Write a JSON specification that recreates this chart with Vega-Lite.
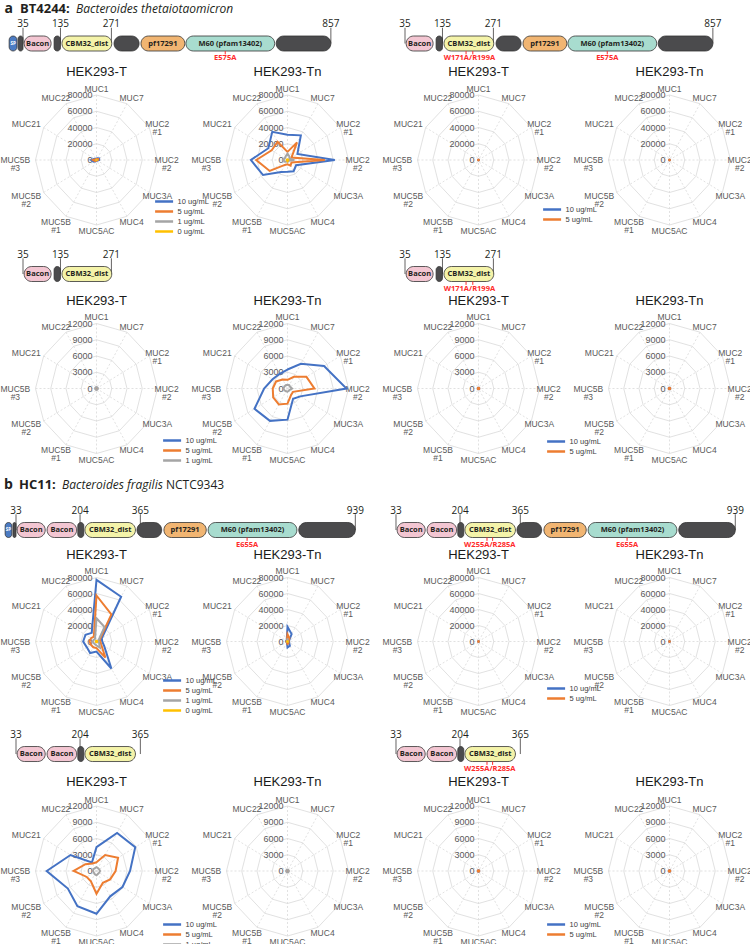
{
"$schema":"https://vega.github.io/schema/vega-lite/v6.json",
"background":"white",
"padding":0,
"spacing":0,
"resolve":{"scale":{"color":"independent","stroke":"independent"},"legend":{"color":"independent","stroke":"independent"}},
"config":{
 "view":{"stroke":null},
 "axis":{"disable":true},
 "style":{
  "num":{"font":"Open Sans","fontSize":10,"color":"#231f20"},
  "dname":{"font":"Open Sans","fontWeight":"bold"},
  "mutl":{"font":"Open Sans","fontSize":7.5,"fontWeight":"bold","color":"#ff2a2a"},
  "hdr":{"font":"Open Sans","color":"#231f20","align":"left","fontSize":13}
 }
},
"datasets":{
 "spk":[{"k":0,"m":"MUC1"},{"k":1,"m":"MUC7"},{"k":2,"m":"MUC2 #1"},{"k":3,"m":"MUC2 #2"},{"k":4,"m":"MUC3A"},{"k":5,"m":"MUC4"},{"k":6,"m":"MUC5AC"},{"k":7,"m":"MUC5B #1"},{"k":8,"m":"MUC5B #2"},{"k":9,"m":"MUC5B #3"},{"k":10,"m":"MUC21"},{"k":11,"m":"MUC22"}],
 "hdr":[{"sec":"a","lab":"a","gene":"BT4244:","species":"Bacteroides thetaiotaomicron","strain":""},{"sec":"b","lab":"b","gene":"HC11:","species":"Bacteroides fragilis","strain":"NCTC9343"}],
 "dom":[
  {"org":"BT","s":-2,"e":19,"n":"SP"},{"org":"BT","s":22,"e":35,"n":""},{"org":"BT","s":38,"e":110,"n":"Bacon"},{"org":"BT","s":118,"e":135,"n":""},{"org":"BT","s":139,"e":272,"n":"CBM32_dist"},{"org":"BT","s":278,"e":345,"n":""},{"org":"BT","s":350,"e":467,"n":"pf17291"},{"org":"BT","s":470,"e":707,"n":"M60 (pfam13402)"},{"org":"BT","s":711,"e":857,"n":""},
  {"org":"HC","s":4,"e":22,"n":"SP"},{"org":"HC","s":25,"e":33,"n":""},{"org":"HC","s":36,"e":111,"n":"Bacon"},{"org":"HC","s":116,"e":195,"n":"Bacon"},{"org":"HC","s":198,"e":214,"n":""},{"org":"HC","s":217,"e":352,"n":"CBM32_dist"},{"org":"HC","s":356,"e":422,"n":""},{"org":"HC","s":428,"e":541,"n":"pf17291"},{"org":"HC","s":546,"e":783,"n":"M60 (pfam13402)"},{"org":"HC","s":788,"e":939,"n":""}
 ],
 "num":[{"org":"BT","r":35},{"org":"BT","r":135},{"org":"BT","r":271},{"org":"BT","r":857},{"org":"HC","r":33},{"org":"HC","r":204},{"org":"HC","r":365},{"org":"HC","r":939}],
 "mut":[{"org":"BT","g":"E575A","r":575},{"org":"BT","g":"W171A/R199A","r":198},{"org":"BT","g":"W171A/R199A","r":216},{"org":"HC","g":"E655A","r":650},{"org":"HC","g":"W255A/R285A","r":276},{"org":"HC","g":"W255A/R285A","r":291}],
 "a1":[
  {"p":"L-T","c":10,"k":0,"v":2000},{"p":"L-T","c":10,"k":1,"v":2500},{"p":"L-T","c":10,"k":2,"v":4000},{"p":"L-T","c":10,"k":3,"v":3500},{"p":"L-T","c":10,"k":4,"v":1500},{"p":"L-T","c":10,"k":5,"v":1000},{"p":"L-T","c":10,"k":6,"v":1000},{"p":"L-T","c":10,"k":7,"v":2000},{"p":"L-T","c":10,"k":8,"v":4000},{"p":"L-T","c":10,"k":9,"v":7000},{"p":"L-T","c":10,"k":10,"v":3000},{"p":"L-T","c":10,"k":11,"v":1500},
  {"p":"L-T","c":5,"k":0,"v":1200},{"p":"L-T","c":5,"k":1,"v":1500},{"p":"L-T","c":5,"k":2,"v":2500},{"p":"L-T","c":5,"k":3,"v":2000},{"p":"L-T","c":5,"k":4,"v":800},{"p":"L-T","c":5,"k":5,"v":600},{"p":"L-T","c":5,"k":6,"v":600},{"p":"L-T","c":5,"k":7,"v":1200},{"p":"L-T","c":5,"k":8,"v":2500},{"p":"L-T","c":5,"k":9,"v":4500},{"p":"L-T","c":5,"k":10,"v":1800},{"p":"L-T","c":5,"k":11,"v":900},
  {"p":"L-T","c":1,"k":0,"v":300},{"p":"L-T","c":1,"k":1,"v":300},{"p":"L-T","c":1,"k":2,"v":300},{"p":"L-T","c":1,"k":3,"v":300},{"p":"L-T","c":1,"k":4,"v":300},{"p":"L-T","c":1,"k":5,"v":300},{"p":"L-T","c":1,"k":6,"v":300},{"p":"L-T","c":1,"k":7,"v":300},{"p":"L-T","c":1,"k":8,"v":300},{"p":"L-T","c":1,"k":9,"v":300},{"p":"L-T","c":1,"k":10,"v":300},{"p":"L-T","c":1,"k":11,"v":300},
  {"p":"L-T","c":0,"k":0,"v":200},{"p":"L-T","c":0,"k":1,"v":200},{"p":"L-T","c":0,"k":2,"v":200},{"p":"L-T","c":0,"k":3,"v":200},{"p":"L-T","c":0,"k":4,"v":200},{"p":"L-T","c":0,"k":5,"v":200},{"p":"L-T","c":0,"k":6,"v":200},{"p":"L-T","c":0,"k":7,"v":200},{"p":"L-T","c":0,"k":8,"v":200},{"p":"L-T","c":0,"k":9,"v":200},{"p":"L-T","c":0,"k":10,"v":200},{"p":"L-T","c":0,"k":11,"v":200},
  {"p":"L-Tn","c":10,"k":0,"v":31000},{"p":"L-Tn","c":10,"k":1,"v":35000},{"p":"L-Tn","c":10,"k":2,"v":15000},{"p":"L-Tn","c":10,"k":3,"v":62000},{"p":"L-Tn","c":10,"k":4,"v":13000},{"p":"L-Tn","c":10,"k":5,"v":16000},{"p":"L-Tn","c":10,"k":6,"v":14500},{"p":"L-Tn","c":10,"k":7,"v":17000},{"p":"L-Tn","c":10,"k":8,"v":37000},{"p":"L-Tn","c":10,"k":9,"v":48000},{"p":"L-Tn","c":10,"k":10,"v":29000},{"p":"L-Tn","c":10,"k":11,"v":40000},
  {"p":"L-Tn","c":5,"k":0,"v":10000},{"p":"L-Tn","c":5,"k":1,"v":25000},{"p":"L-Tn","c":5,"k":2,"v":6000},{"p":"L-Tn","c":5,"k":3,"v":49000},{"p":"L-Tn","c":5,"k":4,"v":6000},{"p":"L-Tn","c":5,"k":5,"v":8000},{"p":"L-Tn","c":5,"k":6,"v":5400},{"p":"L-Tn","c":5,"k":7,"v":7000},{"p":"L-Tn","c":5,"k":8,"v":27000},{"p":"L-Tn","c":5,"k":9,"v":41000},{"p":"L-Tn","c":5,"k":10,"v":24000},{"p":"L-Tn","c":5,"k":11,"v":26000},
  {"p":"L-Tn","c":1,"k":0,"v":8000},{"p":"L-Tn","c":1,"k":1,"v":5000},{"p":"L-Tn","c":1,"k":2,"v":3000},{"p":"L-Tn","c":1,"k":3,"v":9000},{"p":"L-Tn","c":1,"k":4,"v":2000},{"p":"L-Tn","c":1,"k":5,"v":2000},{"p":"L-Tn","c":1,"k":6,"v":2000},{"p":"L-Tn","c":1,"k":7,"v":2000},{"p":"L-Tn","c":1,"k":8,"v":4000},{"p":"L-Tn","c":1,"k":9,"v":6000},{"p":"L-Tn","c":1,"k":10,"v":4000},{"p":"L-Tn","c":1,"k":11,"v":5000},
  {"p":"L-Tn","c":0,"k":0,"v":1000},{"p":"L-Tn","c":0,"k":1,"v":1000},{"p":"L-Tn","c":0,"k":2,"v":1000},{"p":"L-Tn","c":0,"k":3,"v":1000},{"p":"L-Tn","c":0,"k":4,"v":1000},{"p":"L-Tn","c":0,"k":5,"v":1000},{"p":"L-Tn","c":0,"k":6,"v":1500},{"p":"L-Tn","c":0,"k":7,"v":1000},{"p":"L-Tn","c":0,"k":8,"v":1000},{"p":"L-Tn","c":0,"k":9,"v":1000},{"p":"L-Tn","c":0,"k":10,"v":1000},{"p":"L-Tn","c":0,"k":11,"v":1000},
  {"p":"R-T","c":10,"k":0,"v":400},{"p":"R-T","c":10,"k":1,"v":400},{"p":"R-T","c":10,"k":2,"v":400},{"p":"R-T","c":10,"k":3,"v":400},{"p":"R-T","c":10,"k":4,"v":400},{"p":"R-T","c":10,"k":5,"v":400},{"p":"R-T","c":10,"k":6,"v":400},{"p":"R-T","c":10,"k":7,"v":400},{"p":"R-T","c":10,"k":8,"v":400},{"p":"R-T","c":10,"k":9,"v":400},{"p":"R-T","c":10,"k":10,"v":400},{"p":"R-T","c":10,"k":11,"v":400},
  {"p":"R-T","c":5,"k":0,"v":500},{"p":"R-T","c":5,"k":1,"v":500},{"p":"R-T","c":5,"k":2,"v":500},{"p":"R-T","c":5,"k":3,"v":500},{"p":"R-T","c":5,"k":4,"v":500},{"p":"R-T","c":5,"k":5,"v":500},{"p":"R-T","c":5,"k":6,"v":500},{"p":"R-T","c":5,"k":7,"v":500},{"p":"R-T","c":5,"k":8,"v":500},{"p":"R-T","c":5,"k":9,"v":500},{"p":"R-T","c":5,"k":10,"v":500},{"p":"R-T","c":5,"k":11,"v":500},
  {"p":"R-Tn","c":10,"k":0,"v":400},{"p":"R-Tn","c":10,"k":1,"v":400},{"p":"R-Tn","c":10,"k":2,"v":400},{"p":"R-Tn","c":10,"k":3,"v":400},{"p":"R-Tn","c":10,"k":4,"v":400},{"p":"R-Tn","c":10,"k":5,"v":400},{"p":"R-Tn","c":10,"k":6,"v":400},{"p":"R-Tn","c":10,"k":7,"v":400},{"p":"R-Tn","c":10,"k":8,"v":400},{"p":"R-Tn","c":10,"k":9,"v":400},{"p":"R-Tn","c":10,"k":10,"v":400},{"p":"R-Tn","c":10,"k":11,"v":400},
  {"p":"R-Tn","c":5,"k":0,"v":500},{"p":"R-Tn","c":5,"k":1,"v":500},{"p":"R-Tn","c":5,"k":2,"v":500},{"p":"R-Tn","c":5,"k":3,"v":500},{"p":"R-Tn","c":5,"k":4,"v":500},{"p":"R-Tn","c":5,"k":5,"v":500},{"p":"R-Tn","c":5,"k":6,"v":500},{"p":"R-Tn","c":5,"k":7,"v":500},{"p":"R-Tn","c":5,"k":8,"v":500},{"p":"R-Tn","c":5,"k":9,"v":500},{"p":"R-Tn","c":5,"k":10,"v":500},{"p":"R-Tn","c":5,"k":11,"v":500}
 ],
 "a2":[
  {"p":"L-T","c":10,"k":0,"v":150},{"p":"L-T","c":10,"k":1,"v":150},{"p":"L-T","c":10,"k":2,"v":150},{"p":"L-T","c":10,"k":3,"v":150},{"p":"L-T","c":10,"k":4,"v":150},{"p":"L-T","c":10,"k":5,"v":150},{"p":"L-T","c":10,"k":6,"v":150},{"p":"L-T","c":10,"k":7,"v":150},{"p":"L-T","c":10,"k":8,"v":150},{"p":"L-T","c":10,"k":9,"v":150},{"p":"L-T","c":10,"k":10,"v":150},{"p":"L-T","c":10,"k":11,"v":150},
  {"p":"L-T","c":5,"k":0,"v":150},{"p":"L-T","c":5,"k":1,"v":150},{"p":"L-T","c":5,"k":2,"v":150},{"p":"L-T","c":5,"k":3,"v":150},{"p":"L-T","c":5,"k":4,"v":150},{"p":"L-T","c":5,"k":5,"v":150},{"p":"L-T","c":5,"k":6,"v":150},{"p":"L-T","c":5,"k":7,"v":150},{"p":"L-T","c":5,"k":8,"v":150},{"p":"L-T","c":5,"k":9,"v":150},{"p":"L-T","c":5,"k":10,"v":150},{"p":"L-T","c":5,"k":11,"v":150},
  {"p":"L-T","c":1,"k":0,"v":250},{"p":"L-T","c":1,"k":1,"v":250},{"p":"L-T","c":1,"k":2,"v":250},{"p":"L-T","c":1,"k":3,"v":250},{"p":"L-T","c":1,"k":4,"v":250},{"p":"L-T","c":1,"k":5,"v":250},{"p":"L-T","c":1,"k":6,"v":250},{"p":"L-T","c":1,"k":7,"v":250},{"p":"L-T","c":1,"k":8,"v":250},{"p":"L-T","c":1,"k":9,"v":250},{"p":"L-T","c":1,"k":10,"v":250},{"p":"L-T","c":1,"k":11,"v":250},
  {"p":"L-Tn","c":10,"k":0,"v":3500},{"p":"L-Tn","c":10,"k":1,"v":5250},{"p":"L-Tn","c":10,"k":2,"v":8300},{"p":"L-Tn","c":10,"k":3,"v":11600},{"p":"L-Tn","c":10,"k":4,"v":2900},{"p":"L-Tn","c":10,"k":5,"v":2200},{"p":"L-Tn","c":10,"k":6,"v":5750},{"p":"L-Tn","c":10,"k":7,"v":6900},{"p":"L-Tn","c":10,"k":8,"v":7500},{"p":"L-Tn","c":10,"k":9,"v":4600},{"p":"L-Tn","c":10,"k":10,"v":3400},{"p":"L-Tn","c":10,"k":11,"v":3100},
  {"p":"L-Tn","c":5,"k":0,"v":1600},{"p":"L-Tn","c":5,"k":1,"v":2500},{"p":"L-Tn","c":5,"k":2,"v":4300},{"p":"L-Tn","c":5,"k":3,"v":5300},{"p":"L-Tn","c":5,"k":4,"v":1250},{"p":"L-Tn","c":5,"k":5,"v":1400},{"p":"L-Tn","c":5,"k":6,"v":2800},{"p":"L-Tn","c":5,"k":7,"v":3400},{"p":"L-Tn","c":5,"k":8,"v":3250},{"p":"L-Tn","c":5,"k":9,"v":2900},{"p":"L-Tn","c":5,"k":10,"v":2600},{"p":"L-Tn","c":5,"k":11,"v":1900},
  {"p":"L-Tn","c":1,"k":0,"v":700},{"p":"L-Tn","c":1,"k":1,"v":700},{"p":"L-Tn","c":1,"k":2,"v":600},{"p":"L-Tn","c":1,"k":3,"v":900},{"p":"L-Tn","c":1,"k":4,"v":500},{"p":"L-Tn","c":1,"k":5,"v":500},{"p":"L-Tn","c":1,"k":6,"v":600},{"p":"L-Tn","c":1,"k":7,"v":600},{"p":"L-Tn","c":1,"k":8,"v":700},{"p":"L-Tn","c":1,"k":9,"v":800},{"p":"L-Tn","c":1,"k":10,"v":700},{"p":"L-Tn","c":1,"k":11,"v":700},
  {"p":"R-T","c":10,"k":0,"v":150},{"p":"R-T","c":10,"k":1,"v":150},{"p":"R-T","c":10,"k":2,"v":150},{"p":"R-T","c":10,"k":3,"v":150},{"p":"R-T","c":10,"k":4,"v":150},{"p":"R-T","c":10,"k":5,"v":150},{"p":"R-T","c":10,"k":6,"v":150},{"p":"R-T","c":10,"k":7,"v":150},{"p":"R-T","c":10,"k":8,"v":150},{"p":"R-T","c":10,"k":9,"v":150},{"p":"R-T","c":10,"k":10,"v":150},{"p":"R-T","c":10,"k":11,"v":150},
  {"p":"R-T","c":5,"k":0,"v":150},{"p":"R-T","c":5,"k":1,"v":150},{"p":"R-T","c":5,"k":2,"v":150},{"p":"R-T","c":5,"k":3,"v":150},{"p":"R-T","c":5,"k":4,"v":150},{"p":"R-T","c":5,"k":5,"v":150},{"p":"R-T","c":5,"k":6,"v":150},{"p":"R-T","c":5,"k":7,"v":150},{"p":"R-T","c":5,"k":8,"v":150},{"p":"R-T","c":5,"k":9,"v":150},{"p":"R-T","c":5,"k":10,"v":150},{"p":"R-T","c":5,"k":11,"v":150},
  {"p":"R-Tn","c":10,"k":0,"v":150},{"p":"R-Tn","c":10,"k":1,"v":150},{"p":"R-Tn","c":10,"k":2,"v":150},{"p":"R-Tn","c":10,"k":3,"v":150},{"p":"R-Tn","c":10,"k":4,"v":150},{"p":"R-Tn","c":10,"k":5,"v":150},{"p":"R-Tn","c":10,"k":6,"v":150},{"p":"R-Tn","c":10,"k":7,"v":150},{"p":"R-Tn","c":10,"k":8,"v":150},{"p":"R-Tn","c":10,"k":9,"v":150},{"p":"R-Tn","c":10,"k":10,"v":150},{"p":"R-Tn","c":10,"k":11,"v":150},
  {"p":"R-Tn","c":5,"k":0,"v":150},{"p":"R-Tn","c":5,"k":1,"v":150},{"p":"R-Tn","c":5,"k":2,"v":150},{"p":"R-Tn","c":5,"k":3,"v":150},{"p":"R-Tn","c":5,"k":4,"v":150},{"p":"R-Tn","c":5,"k":5,"v":150},{"p":"R-Tn","c":5,"k":6,"v":150},{"p":"R-Tn","c":5,"k":7,"v":150},{"p":"R-Tn","c":5,"k":8,"v":150},{"p":"R-Tn","c":5,"k":9,"v":150},{"p":"R-Tn","c":5,"k":10,"v":150},{"p":"R-Tn","c":5,"k":11,"v":150}
 ],
 "b1":[
  {"p":"L-T","c":10,"k":0,"v":77000},{"p":"L-T","c":10,"k":1,"v":64600},{"p":"L-T","c":10,"k":2,"v":8000},{"p":"L-T","c":10,"k":3,"v":7500},{"p":"L-T","c":10,"k":4,"v":11700},{"p":"L-T","c":10,"k":5,"v":39000},{"p":"L-T","c":10,"k":6,"v":12500},{"p":"L-T","c":10,"k":7,"v":16700},{"p":"L-T","c":10,"k":8,"v":14600},{"p":"L-T","c":10,"k":9,"v":17500},{"p":"L-T","c":10,"k":10,"v":16700},{"p":"L-T","c":10,"k":11,"v":12500},
  {"p":"L-T","c":5,"k":0,"v":57500},{"p":"L-T","c":5,"k":1,"v":39000},{"p":"L-T","c":5,"k":2,"v":5000},{"p":"L-T","c":5,"k":3,"v":5000},{"p":"L-T","c":5,"k":4,"v":7000},{"p":"L-T","c":5,"k":5,"v":23300},{"p":"L-T","c":5,"k":6,"v":8300},{"p":"L-T","c":5,"k":7,"v":8300},{"p":"L-T","c":5,"k":8,"v":8300},{"p":"L-T","c":5,"k":9,"v":9200},{"p":"L-T","c":5,"k":10,"v":8300},{"p":"L-T","c":5,"k":11,"v":7000},
  {"p":"L-T","c":1,"k":0,"v":29000},{"p":"L-T","c":1,"k":1,"v":21000},{"p":"L-T","c":1,"k":2,"v":3000},{"p":"L-T","c":1,"k":3,"v":3000},{"p":"L-T","c":1,"k":4,"v":4000},{"p":"L-T","c":1,"k":5,"v":9000},{"p":"L-T","c":1,"k":6,"v":5000},{"p":"L-T","c":1,"k":7,"v":4000},{"p":"L-T","c":1,"k":8,"v":4000},{"p":"L-T","c":1,"k":9,"v":5000},{"p":"L-T","c":1,"k":10,"v":4000},{"p":"L-T","c":1,"k":11,"v":4000},
  {"p":"L-T","c":0,"k":0,"v":1000},{"p":"L-T","c":0,"k":1,"v":1000},{"p":"L-T","c":0,"k":2,"v":1000},{"p":"L-T","c":0,"k":3,"v":1000},{"p":"L-T","c":0,"k":4,"v":1000},{"p":"L-T","c":0,"k":5,"v":1000},{"p":"L-T","c":0,"k":6,"v":1000},{"p":"L-T","c":0,"k":7,"v":1000},{"p":"L-T","c":0,"k":8,"v":1000},{"p":"L-T","c":0,"k":9,"v":1000},{"p":"L-T","c":0,"k":10,"v":1000},{"p":"L-T","c":0,"k":11,"v":1000},
  {"p":"L-Tn","c":10,"k":0,"v":18300},{"p":"L-Tn","c":10,"k":1,"v":10800},{"p":"L-Tn","c":10,"k":2,"v":2500},{"p":"L-Tn","c":10,"k":3,"v":2000},{"p":"L-Tn","c":10,"k":4,"v":2500},{"p":"L-Tn","c":10,"k":5,"v":6200},{"p":"L-Tn","c":10,"k":6,"v":7500},{"p":"L-Tn","c":10,"k":7,"v":1500},{"p":"L-Tn","c":10,"k":8,"v":1500},{"p":"L-Tn","c":10,"k":9,"v":2000},{"p":"L-Tn","c":10,"k":10,"v":2000},{"p":"L-Tn","c":10,"k":11,"v":2000},
  {"p":"L-Tn","c":5,"k":0,"v":9000},{"p":"L-Tn","c":5,"k":1,"v":5000},{"p":"L-Tn","c":5,"k":2,"v":1500},{"p":"L-Tn","c":5,"k":3,"v":1500},{"p":"L-Tn","c":5,"k":4,"v":1500},{"p":"L-Tn","c":5,"k":5,"v":2500},{"p":"L-Tn","c":5,"k":6,"v":3000},{"p":"L-Tn","c":5,"k":7,"v":1500},{"p":"L-Tn","c":5,"k":8,"v":1500},{"p":"L-Tn","c":5,"k":9,"v":1500},{"p":"L-Tn","c":5,"k":10,"v":1500},{"p":"L-Tn","c":5,"k":11,"v":1500},
  {"p":"L-Tn","c":1,"k":0,"v":4000},{"p":"L-Tn","c":1,"k":1,"v":700},{"p":"L-Tn","c":1,"k":2,"v":700},{"p":"L-Tn","c":1,"k":3,"v":700},{"p":"L-Tn","c":1,"k":4,"v":700},{"p":"L-Tn","c":1,"k":5,"v":700},{"p":"L-Tn","c":1,"k":6,"v":700},{"p":"L-Tn","c":1,"k":7,"v":700},{"p":"L-Tn","c":1,"k":8,"v":700},{"p":"L-Tn","c":1,"k":9,"v":700},{"p":"L-Tn","c":1,"k":10,"v":700},{"p":"L-Tn","c":1,"k":11,"v":700},
  {"p":"L-Tn","c":0,"k":0,"v":500},{"p":"L-Tn","c":0,"k":1,"v":500},{"p":"L-Tn","c":0,"k":2,"v":500},{"p":"L-Tn","c":0,"k":3,"v":500},{"p":"L-Tn","c":0,"k":4,"v":500},{"p":"L-Tn","c":0,"k":5,"v":500},{"p":"L-Tn","c":0,"k":6,"v":500},{"p":"L-Tn","c":0,"k":7,"v":500},{"p":"L-Tn","c":0,"k":8,"v":500},{"p":"L-Tn","c":0,"k":9,"v":500},{"p":"L-Tn","c":0,"k":10,"v":500},{"p":"L-Tn","c":0,"k":11,"v":500},
  {"p":"R-T","c":10,"k":0,"v":400},{"p":"R-T","c":10,"k":1,"v":400},{"p":"R-T","c":10,"k":2,"v":400},{"p":"R-T","c":10,"k":3,"v":400},{"p":"R-T","c":10,"k":4,"v":400},{"p":"R-T","c":10,"k":5,"v":400},{"p":"R-T","c":10,"k":6,"v":400},{"p":"R-T","c":10,"k":7,"v":400},{"p":"R-T","c":10,"k":8,"v":400},{"p":"R-T","c":10,"k":9,"v":400},{"p":"R-T","c":10,"k":10,"v":400},{"p":"R-T","c":10,"k":11,"v":400},
  {"p":"R-T","c":5,"k":0,"v":500},{"p":"R-T","c":5,"k":1,"v":500},{"p":"R-T","c":5,"k":2,"v":500},{"p":"R-T","c":5,"k":3,"v":500},{"p":"R-T","c":5,"k":4,"v":500},{"p":"R-T","c":5,"k":5,"v":500},{"p":"R-T","c":5,"k":6,"v":500},{"p":"R-T","c":5,"k":7,"v":500},{"p":"R-T","c":5,"k":8,"v":500},{"p":"R-T","c":5,"k":9,"v":500},{"p":"R-T","c":5,"k":10,"v":500},{"p":"R-T","c":5,"k":11,"v":500},
  {"p":"R-Tn","c":10,"k":0,"v":400},{"p":"R-Tn","c":10,"k":1,"v":400},{"p":"R-Tn","c":10,"k":2,"v":400},{"p":"R-Tn","c":10,"k":3,"v":400},{"p":"R-Tn","c":10,"k":4,"v":400},{"p":"R-Tn","c":10,"k":5,"v":400},{"p":"R-Tn","c":10,"k":6,"v":400},{"p":"R-Tn","c":10,"k":7,"v":400},{"p":"R-Tn","c":10,"k":8,"v":400},{"p":"R-Tn","c":10,"k":9,"v":400},{"p":"R-Tn","c":10,"k":10,"v":400},{"p":"R-Tn","c":10,"k":11,"v":400},
  {"p":"R-Tn","c":5,"k":0,"v":500},{"p":"R-Tn","c":5,"k":1,"v":500},{"p":"R-Tn","c":5,"k":2,"v":500},{"p":"R-Tn","c":5,"k":3,"v":500},{"p":"R-Tn","c":5,"k":4,"v":500},{"p":"R-Tn","c":5,"k":5,"v":500},{"p":"R-Tn","c":5,"k":6,"v":500},{"p":"R-Tn","c":5,"k":7,"v":500},{"p":"R-Tn","c":5,"k":8,"v":500},{"p":"R-Tn","c":5,"k":9,"v":500},{"p":"R-Tn","c":5,"k":10,"v":500},{"p":"R-Tn","c":5,"k":11,"v":500}
 ],
 "b2":[
  {"p":"L-T","c":10,"k":0,"v":4400},{"p":"L-T","c":10,"k":1,"v":8100},{"p":"L-T","c":10,"k":2,"v":8800},{"p":"L-T","c":10,"k":3,"v":6600},{"p":"L-T","c":10,"k":4,"v":5900},{"p":"L-T","c":10,"k":5,"v":5400},{"p":"L-T","c":10,"k":6,"v":7900},{"p":"L-T","c":10,"k":7,"v":7500},{"p":"L-T","c":10,"k":8,"v":6500},{"p":"L-T","c":10,"k":9,"v":9800},{"p":"L-T","c":10,"k":10,"v":5900},{"p":"L-T","c":10,"k":11,"v":1800},
  {"p":"L-T","c":5,"k":0,"v":1600},{"p":"L-T","c":5,"k":1,"v":3400},{"p":"L-T","c":5,"k":2,"v":4900},{"p":"L-T","c":5,"k":3,"v":3750},{"p":"L-T","c":5,"k":4,"v":3100},{"p":"L-T","c":5,"k":5,"v":2500},{"p":"L-T","c":5,"k":6,"v":4200},{"p":"L-T","c":5,"k":7,"v":2200},{"p":"L-T","c":5,"k":8,"v":2200},{"p":"L-T","c":5,"k":9,"v":4500},{"p":"L-T","c":5,"k":10,"v":2500},{"p":"L-T","c":5,"k":11,"v":1600},
  {"p":"L-T","c":1,"k":0,"v":700},{"p":"L-T","c":1,"k":1,"v":600},{"p":"L-T","c":1,"k":2,"v":600},{"p":"L-T","c":1,"k":3,"v":700},{"p":"L-T","c":1,"k":4,"v":600},{"p":"L-T","c":1,"k":5,"v":600},{"p":"L-T","c":1,"k":6,"v":800},{"p":"L-T","c":1,"k":7,"v":700},{"p":"L-T","c":1,"k":8,"v":600},{"p":"L-T","c":1,"k":9,"v":700},{"p":"L-T","c":1,"k":10,"v":700},{"p":"L-T","c":1,"k":11,"v":600},
  {"p":"L-Tn","c":10,"k":0,"v":150},{"p":"L-Tn","c":10,"k":1,"v":150},{"p":"L-Tn","c":10,"k":2,"v":150},{"p":"L-Tn","c":10,"k":3,"v":150},{"p":"L-Tn","c":10,"k":4,"v":150},{"p":"L-Tn","c":10,"k":5,"v":150},{"p":"L-Tn","c":10,"k":6,"v":150},{"p":"L-Tn","c":10,"k":7,"v":150},{"p":"L-Tn","c":10,"k":8,"v":150},{"p":"L-Tn","c":10,"k":9,"v":150},{"p":"L-Tn","c":10,"k":10,"v":150},{"p":"L-Tn","c":10,"k":11,"v":150},
  {"p":"L-Tn","c":5,"k":0,"v":150},{"p":"L-Tn","c":5,"k":1,"v":150},{"p":"L-Tn","c":5,"k":2,"v":150},{"p":"L-Tn","c":5,"k":3,"v":150},{"p":"L-Tn","c":5,"k":4,"v":150},{"p":"L-Tn","c":5,"k":5,"v":150},{"p":"L-Tn","c":5,"k":6,"v":150},{"p":"L-Tn","c":5,"k":7,"v":150},{"p":"L-Tn","c":5,"k":8,"v":150},{"p":"L-Tn","c":5,"k":9,"v":150},{"p":"L-Tn","c":5,"k":10,"v":150},{"p":"L-Tn","c":5,"k":11,"v":150},
  {"p":"L-Tn","c":1,"k":0,"v":250},{"p":"L-Tn","c":1,"k":1,"v":250},{"p":"L-Tn","c":1,"k":2,"v":250},{"p":"L-Tn","c":1,"k":3,"v":250},{"p":"L-Tn","c":1,"k":4,"v":250},{"p":"L-Tn","c":1,"k":5,"v":250},{"p":"L-Tn","c":1,"k":6,"v":250},{"p":"L-Tn","c":1,"k":7,"v":250},{"p":"L-Tn","c":1,"k":8,"v":250},{"p":"L-Tn","c":1,"k":9,"v":250},{"p":"L-Tn","c":1,"k":10,"v":250},{"p":"L-Tn","c":1,"k":11,"v":250},
  {"p":"R-T","c":10,"k":0,"v":150},{"p":"R-T","c":10,"k":1,"v":150},{"p":"R-T","c":10,"k":2,"v":150},{"p":"R-T","c":10,"k":3,"v":150},{"p":"R-T","c":10,"k":4,"v":150},{"p":"R-T","c":10,"k":5,"v":150},{"p":"R-T","c":10,"k":6,"v":150},{"p":"R-T","c":10,"k":7,"v":150},{"p":"R-T","c":10,"k":8,"v":150},{"p":"R-T","c":10,"k":9,"v":150},{"p":"R-T","c":10,"k":10,"v":150},{"p":"R-T","c":10,"k":11,"v":150},
  {"p":"R-T","c":5,"k":0,"v":150},{"p":"R-T","c":5,"k":1,"v":150},{"p":"R-T","c":5,"k":2,"v":150},{"p":"R-T","c":5,"k":3,"v":150},{"p":"R-T","c":5,"k":4,"v":150},{"p":"R-T","c":5,"k":5,"v":150},{"p":"R-T","c":5,"k":6,"v":150},{"p":"R-T","c":5,"k":7,"v":150},{"p":"R-T","c":5,"k":8,"v":150},{"p":"R-T","c":5,"k":9,"v":150},{"p":"R-T","c":5,"k":10,"v":150},{"p":"R-T","c":5,"k":11,"v":150},
  {"p":"R-Tn","c":10,"k":0,"v":150},{"p":"R-Tn","c":10,"k":1,"v":150},{"p":"R-Tn","c":10,"k":2,"v":150},{"p":"R-Tn","c":10,"k":3,"v":150},{"p":"R-Tn","c":10,"k":4,"v":150},{"p":"R-Tn","c":10,"k":5,"v":150},{"p":"R-Tn","c":10,"k":6,"v":150},{"p":"R-Tn","c":10,"k":7,"v":150},{"p":"R-Tn","c":10,"k":8,"v":150},{"p":"R-Tn","c":10,"k":9,"v":150},{"p":"R-Tn","c":10,"k":10,"v":150},{"p":"R-Tn","c":10,"k":11,"v":150},
  {"p":"R-Tn","c":5,"k":0,"v":150},{"p":"R-Tn","c":5,"k":1,"v":150},{"p":"R-Tn","c":5,"k":2,"v":150},{"p":"R-Tn","c":5,"k":3,"v":150},{"p":"R-Tn","c":5,"k":4,"v":150},{"p":"R-Tn","c":5,"k":5,"v":150},{"p":"R-Tn","c":5,"k":6,"v":150},{"p":"R-Tn","c":5,"k":7,"v":150},{"p":"R-Tn","c":5,"k":8,"v":150},{"p":"R-Tn","c":5,"k":9,"v":150},{"p":"R-Tn","c":5,"k":10,"v":150},{"p":"R-Tn","c":5,"k":11,"v":150}
 ]
},
"vconcat":[
 {"hconcat":[
  {"width":365,"height":66,"layer":[
   {"data":{"name":"num"},"transform":[{"filter":"datum.org=='BT'"}],"mark":{"type":"rule","color":"#231f20","strokeWidth":0.7},"encoding":{"x":{"field":"r","type":"quantitative","scale":{"domain":[-21.1,953.5],"nice":false,"zero":false}},"y":{"datum":2.1,"type":"quantitative","scale":{"domain":[-3.0,5.8],"nice":false,"zero":false}},"y2":{"datum":0}}},
   {"data":{"name":"num"},"transform":[{"filter":"datum.org=='BT'"}],"mark":{"type":"text","style":"num"},"encoding":{"x":{"field":"r","type":"quantitative"},"y":{"datum":2.6,"type":"quantitative"},"text":{"field":"r","type":"quantitative"}}},
   {"data":{"name":"dom"},"transform":[{"filter":"datum.org=='BT'"}],"mark":{"type":"rect","cornerRadius":8,"stroke":"#333333","strokeWidth":0.8},"encoding":{"x":{"field":"s","type":"quantitative"},"x2":{"field":"e"},"y":{"datum":-1,"type":"quantitative"},"y2":{"datum":1},"color":{"field":"n","type":"nominal","scale":{"domain":["SP","","Bacon","CBM32_dist","pf17291","M60 (pfam13402)"],"range":["#4b7bc3","#4b4b4d","#f3c6d2","#f4f3a9","#f1b572","#a8dccf"]},"legend":null}}},
   {"data":{"name":"dom"},"transform":[{"filter":"datum.org=='BT'&&datum.n!=''&&datum.n!='SP'"},{"calculate":"(datum.s+datum.e)/2","as":"mid"}],"mark":{"type":"text","style":"dname","fontSize":7.5,"color":"#231f20"},"encoding":{"x":{"field":"mid","type":"quantitative"},"y":{"datum":0,"type":"quantitative"},"text":{"field":"n"}}},
   {"data":{"name":"dom"},"transform":[{"filter":"datum.org=='BT'&&datum.n=='SP'"},{"calculate":"(datum.s+datum.e)/2","as":"mid"}],"mark":{"type":"text","style":"dname","fontSize":4.5,"color":"#ffffff"},"encoding":{"x":{"field":"mid","type":"quantitative"},"y":{"datum":0,"type":"quantitative"},"text":{"field":"n"}}},
   {"data":{"name":"mut"},"transform":[{"filter":"datum.g=='E575A'"}],"mark":{"type":"rule","color":"#ff2a2a","strokeWidth":1},"encoding":{"x":{"field":"r","type":"quantitative"},"y":{"datum":-1,"type":"quantitative"},"y2":{"datum":-1.45}}},
   {"data":{"name":"mut"},"transform":[{"filter":"datum.g=='E575A'"},{"aggregate":[{"op":"mean","field":"r","as":"r"}],"groupby":["g"]}],"mark":{"type":"text","style":"mutl"},"encoding":{"x":{"field":"r","type":"quantitative"},"y":{"datum":-1.95,"type":"quantitative"},"text":{"field":"g"}}},
   {"data":{"name":"hdr"},"transform":[{"filter":"datum.sec=='a'"}],"mark":{"type":"text","style":"hdr","fontSize":14,"fontWeight":"bold"},"encoding":{"x":{"datum":-14.4,"type":"quantitative"},"y":{"datum":4.6,"type":"quantitative"},"text":{"field":"lab"}}},
   {"data":{"name":"hdr"},"transform":[{"filter":"datum.sec=='a'"}],"mark":{"type":"text","style":"hdr","fontWeight":"bold"},"encoding":{"x":{"datum":27,"type":"quantitative"},"y":{"datum":4.6,"type":"quantitative"},"text":{"field":"gene"}}},
   {"data":{"name":"hdr"},"transform":[{"filter":"datum.sec=='a'"}],"mark":{"type":"text","style":"hdr","fontStyle":"italic","fontSize":12},"encoding":{"x":{"datum":176.5,"type":"quantitative"},"y":{"datum":4.6,"type":"quantitative"},"text":{"field":"species"}}}
  ]},
  {"width":365,"height":66,"layer":[
   {"data":{"name":"num"},"transform":[{"filter":"datum.org=='BT'"}],"mark":{"type":"rule","color":"#231f20","strokeWidth":0.7},"encoding":{"x":{"field":"r","type":"quantitative","scale":{"domain":[-13.1,961.5],"nice":false,"zero":false}},"y":{"datum":2.1,"type":"quantitative","scale":{"domain":[-3.0,5.8],"nice":false,"zero":false}},"y2":{"datum":0}}},
   {"data":{"name":"num"},"transform":[{"filter":"datum.org=='BT'"}],"mark":{"type":"text","style":"num"},"encoding":{"x":{"field":"r","type":"quantitative"},"y":{"datum":2.6,"type":"quantitative"},"text":{"field":"r","type":"quantitative"}}},
   {"data":{"name":"dom"},"transform":[{"filter":"datum.org=='BT'&&datum.s>=36"}],"mark":{"type":"rect","cornerRadius":8,"stroke":"#333333","strokeWidth":0.8},"encoding":{"x":{"field":"s","type":"quantitative"},"x2":{"field":"e"},"y":{"datum":-1,"type":"quantitative"},"y2":{"datum":1},"color":{"field":"n","type":"nominal","scale":{"domain":["SP","","Bacon","CBM32_dist","pf17291","M60 (pfam13402)"],"range":["#4b7bc3","#4b4b4d","#f3c6d2","#f4f3a9","#f1b572","#a8dccf"]},"legend":null}}},
   {"data":{"name":"dom"},"transform":[{"filter":"datum.org=='BT'&&datum.s>=36&&datum.n!=''"},{"calculate":"(datum.s+datum.e)/2","as":"mid"}],"mark":{"type":"text","style":"dname","fontSize":7.5,"color":"#231f20"},"encoding":{"x":{"field":"mid","type":"quantitative"},"y":{"datum":0,"type":"quantitative"},"text":{"field":"n"}}},
   {"data":{"name":"mut"},"transform":[{"filter":"datum.org=='BT'"}],"mark":{"type":"rule","color":"#ff2a2a","strokeWidth":1},"encoding":{"x":{"field":"r","type":"quantitative"},"y":{"datum":-1,"type":"quantitative"},"y2":{"datum":-1.45}}},
   {"data":{"name":"mut"},"transform":[{"filter":"datum.org=='BT'"},{"aggregate":[{"op":"mean","field":"r","as":"r"}],"groupby":["g"]}],"mark":{"type":"text","style":"mutl"},"encoding":{"x":{"field":"r","type":"quantitative"},"y":{"datum":-1.95,"type":"quantitative"},"text":{"field":"g"}}}
  ]}
 ],"spacing":20},
 {"data":{"name":"a1"},"transform":[{"calculate":"80000","as":"M"},{"lookup":"k","from":{"data":{"name":"spk"},"key":"k","fields":["m"]}}],
  "facet":{"field":"p","type":"nominal","header":{"title":null,"labelExpr":"'HEK293-'+substring(datum.value,2)","labelFontSize":13,"labelFont":"Liberation Sans","labelColor":"#1a1a1a","labelPadding":2}},
  "columns":4,"spacing":0,
  "spec":{"width":189,"height":158,"layer":[
   {"transform":[{"filter":"datum.c==10"},{"calculate":"[0.25,0.5,0.75,1]","as":"L"},{"flatten":["L"]},{"calculate":"datum.L*sin(datum.k*PI/6)","as":"x"},{"calculate":"datum.L*cos(datum.k*PI/6)","as":"y"}],"mark":{"type":"line","interpolate":"linear-closed","color":"#d9d9d9","strokeWidth":0.8},"encoding":{"x":{"field":"x","type":"quantitative","scale":{"domain":[-1.549,1.549],"nice":false,"zero":false}},"y":{"field":"y","type":"quantitative","scale":{"domain":[-1.2154,1.2154],"nice":false,"zero":false}},"detail":{"field":"L","type":"nominal"},"order":{"field":"k","type":"quantitative"}}},
   {"transform":[{"filter":"datum.c==10"},{"calculate":"sin(datum.k*PI/6)","as":"x"},{"calculate":"cos(datum.k*PI/6)","as":"y"}],"mark":{"type":"rule","color":"#d9d9d9","strokeWidth":0.8,"strokeDash":[2,2]},"encoding":{"x":{"field":"x","type":"quantitative"},"y":{"field":"y","type":"quantitative"},"x2":{"datum":0},"y2":{"datum":0}}},
   {"transform":[{"filter":"datum.c==10"},{"calculate":"sin(datum.k*PI/6)*(sin(datum.k*PI/6)<-0.01?1.33:1.15)","as":"x"},{"calculate":"1.1*cos(datum.k*PI/6)","as":"y"}],"mark":{"type":"text","font":"Liberation Sans","fontSize":8.5,"color":"#595959","lineBreak":" ","lineHeight":8},"encoding":{"x":{"field":"x","type":"quantitative"},"y":{"field":"y","type":"quantitative"},"text":{"field":"m"}}},
   {"transform":[{"filter":"datum.c==10&&datum.k==0"},{"calculate":"[0,0.25,0.5,0.75,1]","as":"T"},{"flatten":["T"]},{"calculate":"format(datum.T*datum.M,'d')","as":"lbl"},{"calculate":"0","as":"x0"}],"mark":{"type":"text","align":"right","dx":-4,"font":"Liberation Sans","fontSize":9,"color":"#595959"},"encoding":{"x":{"field":"x0","type":"quantitative"},"y":{"field":"T","type":"quantitative"},"text":{"field":"lbl"}}},
   {"transform":[{"filter":"substring(datum.p,0,1)=='L'"},{"calculate":"datum.v/datum.M*sin(datum.k*PI/6)","as":"x"},{"calculate":"datum.v/datum.M*cos(datum.k*PI/6)","as":"y"}],"mark":{"type":"line","interpolate":"linear-closed","strokeWidth":2},"encoding":{"x":{"field":"x","type":"quantitative"},"y":{"field":"y","type":"quantitative"},"order":{"field":"k","type":"quantitative"},"color":{"field":"c","type":"nominal","sort":"descending","scale":{"range":["#4472c4","#ed7d31","#a5a5a5","#ffc000"]},"legend":{"orient":"none","legendX":157.6,"legendY":116,"title":null,"symbolType":"M-3,0H3","symbolSize":36,"symbolStrokeWidth":2.5,"labelFontSize":7.5,"labelFont":"Liberation Sans","labelColor":"#404040","rowPadding":-5,"labelOffset":9,"labelExpr":"datum.label+' ug/mL'"}}}},
   {"transform":[{"filter":"substring(datum.p,0,1)=='R'"},{"calculate":"datum.c","as":"c2"},{"calculate":"datum.v/datum.M*sin(datum.k*PI/6)","as":"x"},{"calculate":"datum.v/datum.M*cos(datum.k*PI/6)","as":"y"}],"mark":{"type":"line","interpolate":"linear-closed","strokeWidth":2},"encoding":{"x":{"field":"x","type":"quantitative"},"y":{"field":"y","type":"quantitative"},"order":{"field":"k","type":"quantitative"},"stroke":{"field":"c2","type":"nominal","sort":"descending","scale":{"range":["#4472c4","#ed7d31"]},"legend":{"orient":"none","legendX":545.6,"legendY":124,"title":null,"symbolType":"M-3,0H3","symbolSize":36,"symbolStrokeWidth":2.5,"labelFontSize":7.5,"labelFont":"Liberation Sans","labelColor":"#404040","rowPadding":-5,"labelOffset":9,"labelExpr":"datum.label+' ug/mL'"}}}}
  ]}},
 {"hconcat":[
  {"width":365,"height":56,"layer":[
   {"data":{"name":"num"},"transform":[{"filter":"datum.org=='BT'&&datum.r<=271"}],"mark":{"type":"rule","color":"#231f20","strokeWidth":0.7},"encoding":{"x":{"field":"r","type":"quantitative","scale":{"domain":[-21.1,953.5],"nice":false,"zero":false}},"y":{"datum":2.1,"type":"quantitative","scale":{"domain":[-2.8,4.67],"nice":false,"zero":false}},"y2":{"datum":0}}},
   {"data":{"name":"num"},"transform":[{"filter":"datum.org=='BT'&&datum.r<=271"}],"mark":{"type":"text","style":"num"},"encoding":{"x":{"field":"r","type":"quantitative"},"y":{"datum":2.6,"type":"quantitative"},"text":{"field":"r","type":"quantitative"}}},
   {"data":{"name":"dom"},"transform":[{"filter":"datum.org=='BT'&&datum.s>=36&&datum.e<=275"}],"mark":{"type":"rect","cornerRadius":8,"stroke":"#333333","strokeWidth":0.8},"encoding":{"x":{"field":"s","type":"quantitative"},"x2":{"field":"e"},"y":{"datum":-1,"type":"quantitative"},"y2":{"datum":1},"color":{"field":"n","type":"nominal","scale":{"domain":["SP","","Bacon","CBM32_dist","pf17291","M60 (pfam13402)"],"range":["#4b7bc3","#4b4b4d","#f3c6d2","#f4f3a9","#f1b572","#a8dccf"]},"legend":null}}},
   {"data":{"name":"dom"},"transform":[{"filter":"datum.org=='BT'&&datum.s>=36&&datum.e<=275&&datum.n!=''"},{"calculate":"(datum.s+datum.e)/2","as":"mid"}],"mark":{"type":"text","style":"dname","fontSize":7.5,"color":"#231f20"},"encoding":{"x":{"field":"mid","type":"quantitative"},"y":{"datum":0,"type":"quantitative"},"text":{"field":"n"}}}
  ]},
  {"width":365,"height":56,"layer":[
   {"data":{"name":"num"},"transform":[{"filter":"datum.org=='BT'&&datum.r<=271"}],"mark":{"type":"rule","color":"#231f20","strokeWidth":0.7},"encoding":{"x":{"field":"r","type":"quantitative","scale":{"domain":[-13.1,961.5],"nice":false,"zero":false}},"y":{"datum":2.1,"type":"quantitative","scale":{"domain":[-2.8,4.67],"nice":false,"zero":false}},"y2":{"datum":0}}},
   {"data":{"name":"num"},"transform":[{"filter":"datum.org=='BT'&&datum.r<=271"}],"mark":{"type":"text","style":"num"},"encoding":{"x":{"field":"r","type":"quantitative"},"y":{"datum":2.6,"type":"quantitative"},"text":{"field":"r","type":"quantitative"}}},
   {"data":{"name":"dom"},"transform":[{"filter":"datum.org=='BT'&&datum.s>=36&&datum.e<=275"}],"mark":{"type":"rect","cornerRadius":8,"stroke":"#333333","strokeWidth":0.8},"encoding":{"x":{"field":"s","type":"quantitative"},"x2":{"field":"e"},"y":{"datum":-1,"type":"quantitative"},"y2":{"datum":1},"color":{"field":"n","type":"nominal","scale":{"domain":["SP","","Bacon","CBM32_dist","pf17291","M60 (pfam13402)"],"range":["#4b7bc3","#4b4b4d","#f3c6d2","#f4f3a9","#f1b572","#a8dccf"]},"legend":null}}},
   {"data":{"name":"dom"},"transform":[{"filter":"datum.org=='BT'&&datum.s>=36&&datum.e<=275&&datum.n!=''"},{"calculate":"(datum.s+datum.e)/2","as":"mid"}],"mark":{"type":"text","style":"dname","fontSize":7.5,"color":"#231f20"},"encoding":{"x":{"field":"mid","type":"quantitative"},"y":{"datum":0,"type":"quantitative"},"text":{"field":"n"}}},
   {"data":{"name":"mut"},"transform":[{"filter":"datum.g=='W171A/R199A'"}],"mark":{"type":"rule","color":"#ff2a2a","strokeWidth":1},"encoding":{"x":{"field":"r","type":"quantitative"},"y":{"datum":-1,"type":"quantitative"},"y2":{"datum":-1.45}}},
   {"data":{"name":"mut"},"transform":[{"filter":"datum.g=='W171A/R199A'"},{"aggregate":[{"op":"mean","field":"r","as":"r"}],"groupby":["g"]}],"mark":{"type":"text","style":"mutl"},"encoding":{"x":{"field":"r","type":"quantitative"},"y":{"datum":-1.95,"type":"quantitative"},"text":{"field":"g"}}}
  ]}
 ],"spacing":20},
 {"data":{"name":"a2"},"transform":[{"calculate":"12000","as":"M"},{"lookup":"k","from":{"data":{"name":"spk"},"key":"k","fields":["m"]}}],
  "facet":{"field":"p","type":"nominal","header":{"title":null,"labelExpr":"'HEK293-'+substring(datum.value,2)","labelFontSize":13,"labelFont":"Liberation Sans","labelColor":"#1a1a1a","labelPadding":2}},
  "columns":4,"spacing":0,
  "spec":{"width":189,"height":157,"layer":[
   {"transform":[{"filter":"datum.c==10"},{"calculate":"[0.25,0.5,0.75,1]","as":"L"},{"flatten":["L"]},{"calculate":"datum.L*sin(datum.k*PI/6)","as":"x"},{"calculate":"datum.L*cos(datum.k*PI/6)","as":"y"}],"mark":{"type":"line","interpolate":"linear-closed","color":"#d9d9d9","strokeWidth":0.8},"encoding":{"x":{"field":"x","type":"quantitative","scale":{"domain":[-1.549,1.549],"nice":false,"zero":false}},"y":{"field":"y","type":"quantitative","scale":{"domain":[-1.2077,1.2077],"nice":false,"zero":false}},"detail":{"field":"L","type":"nominal"},"order":{"field":"k","type":"quantitative"}}},
   {"transform":[{"filter":"datum.c==10"},{"calculate":"sin(datum.k*PI/6)","as":"x"},{"calculate":"cos(datum.k*PI/6)","as":"y"}],"mark":{"type":"rule","color":"#d9d9d9","strokeWidth":0.8,"strokeDash":[2,2]},"encoding":{"x":{"field":"x","type":"quantitative"},"y":{"field":"y","type":"quantitative"},"x2":{"datum":0},"y2":{"datum":0}}},
   {"transform":[{"filter":"datum.c==10"},{"calculate":"sin(datum.k*PI/6)*(sin(datum.k*PI/6)<-0.01?1.33:1.15)","as":"x"},{"calculate":"1.1*cos(datum.k*PI/6)","as":"y"}],"mark":{"type":"text","font":"Liberation Sans","fontSize":8.5,"color":"#595959","lineBreak":" ","lineHeight":8},"encoding":{"x":{"field":"x","type":"quantitative"},"y":{"field":"y","type":"quantitative"},"text":{"field":"m"}}},
   {"transform":[{"filter":"datum.c==10&&datum.k==0"},{"calculate":"[0,0.25,0.5,0.75,1]","as":"T"},{"flatten":["T"]},{"calculate":"format(datum.T*datum.M,'d')","as":"lbl"},{"calculate":"0","as":"x0"}],"mark":{"type":"text","align":"right","dx":-4,"font":"Liberation Sans","fontSize":9,"color":"#595959"},"encoding":{"x":{"field":"x0","type":"quantitative"},"y":{"field":"T","type":"quantitative"},"text":{"field":"lbl"}}},
   {"transform":[{"filter":"substring(datum.p,0,1)=='L'"},{"calculate":"datum.v/datum.M*sin(datum.k*PI/6)","as":"x"},{"calculate":"datum.v/datum.M*cos(datum.k*PI/6)","as":"y"}],"mark":{"type":"line","interpolate":"linear-closed","strokeWidth":2},"encoding":{"x":{"field":"x","type":"quantitative"},"y":{"field":"y","type":"quantitative"},"order":{"field":"k","type":"quantitative"},"color":{"field":"c","type":"nominal","sort":"descending","scale":{"range":["#4472c4","#ed7d31","#a5a5a5","#ffc000"]},"legend":{"orient":"none","legendX":165.6,"legendY":126,"title":null,"symbolType":"M-3,0H3","symbolSize":36,"symbolStrokeWidth":2.5,"labelFontSize":7.5,"labelFont":"Liberation Sans","labelColor":"#404040","rowPadding":-5,"labelOffset":9,"labelExpr":"datum.label+' ug/mL'"}}}},
   {"transform":[{"filter":"substring(datum.p,0,1)=='R'"},{"calculate":"datum.c","as":"c2"},{"calculate":"datum.v/datum.M*sin(datum.k*PI/6)","as":"x"},{"calculate":"datum.v/datum.M*cos(datum.k*PI/6)","as":"y"}],"mark":{"type":"line","interpolate":"linear-closed","strokeWidth":2},"encoding":{"x":{"field":"x","type":"quantitative"},"y":{"field":"y","type":"quantitative"},"order":{"field":"k","type":"quantitative"},"stroke":{"field":"c2","type":"nominal","sort":"descending","scale":{"range":["#4472c4","#ed7d31"]},"legend":{"orient":"none","legendX":549.6,"legendY":127,"title":null,"symbolType":"M-3,0H3","symbolSize":36,"symbolStrokeWidth":2.5,"labelFontSize":7.5,"labelFont":"Liberation Sans","labelColor":"#404040","rowPadding":-5,"labelOffset":9,"labelExpr":"datum.label+' ug/mL'"}}}}
  ]}},
 {"hconcat":[
  {"width":365,"height":81,"layer":[
   {"data":{"name":"num"},"transform":[{"filter":"datum.org=='HC'"}],"mark":{"type":"rule","color":"#231f20","strokeWidth":0.7},"encoding":{"x":{"field":"r","type":"quantitative","scale":{"domain":[-4.4,970.2],"nice":false,"zero":false}},"y":{"datum":2.1,"type":"quantitative","scale":{"domain":[-2.4,8.4],"nice":false,"zero":false}},"y2":{"datum":0}}},
   {"data":{"name":"num"},"transform":[{"filter":"datum.org=='HC'"}],"mark":{"type":"text","style":"num"},"encoding":{"x":{"field":"r","type":"quantitative"},"y":{"datum":2.6,"type":"quantitative"},"text":{"field":"r","type":"quantitative"}}},
   {"data":{"name":"dom"},"transform":[{"filter":"datum.org=='HC'"}],"mark":{"type":"rect","cornerRadius":8,"stroke":"#333333","strokeWidth":0.8},"encoding":{"x":{"field":"s","type":"quantitative"},"x2":{"field":"e"},"y":{"datum":-1,"type":"quantitative"},"y2":{"datum":1},"color":{"field":"n","type":"nominal","scale":{"domain":["SP","","Bacon","CBM32_dist","pf17291","M60 (pfam13402)"],"range":["#4b7bc3","#4b4b4d","#f3c6d2","#f4f3a9","#f1b572","#a8dccf"]},"legend":null}}},
   {"data":{"name":"dom"},"transform":[{"filter":"datum.org=='HC'&&datum.n!=''&&datum.n!='SP'"},{"calculate":"(datum.s+datum.e)/2","as":"mid"}],"mark":{"type":"text","style":"dname","fontSize":7.5,"color":"#231f20"},"encoding":{"x":{"field":"mid","type":"quantitative"},"y":{"datum":0,"type":"quantitative"},"text":{"field":"n"}}},
   {"data":{"name":"dom"},"transform":[{"filter":"datum.org=='HC'&&datum.n=='SP'"},{"calculate":"(datum.s+datum.e)/2","as":"mid"}],"mark":{"type":"text","style":"dname","fontSize":4.5,"color":"#ffffff"},"encoding":{"x":{"field":"mid","type":"quantitative"},"y":{"datum":0,"type":"quantitative"},"text":{"field":"n"}}},
   {"data":{"name":"mut"},"transform":[{"filter":"datum.g=='E655A'"}],"mark":{"type":"rule","color":"#ff2a2a","strokeWidth":1},"encoding":{"x":{"field":"r","type":"quantitative"},"y":{"datum":-1,"type":"quantitative"},"y2":{"datum":-1.45}}},
   {"data":{"name":"mut"},"transform":[{"filter":"datum.g=='E655A'"},{"aggregate":[{"op":"mean","field":"r","as":"r"}],"groupby":["g"]}],"mark":{"type":"text","style":"mutl"},"encoding":{"x":{"field":"r","type":"quantitative"},"y":{"datum":-1.95,"type":"quantitative"},"text":{"field":"g"}}},
   {"data":{"name":"hdr"},"transform":[{"filter":"datum.sec=='b'"}],"mark":{"type":"text","style":"hdr","fontSize":14,"fontWeight":"bold"},"encoding":{"x":{"datum":1,"type":"quantitative"},"y":{"datum":6.0,"type":"quantitative"},"text":{"field":"lab"}}},
   {"data":{"name":"hdr"},"transform":[{"filter":"datum.sec=='b'"}],"mark":{"type":"text","style":"hdr","fontWeight":"bold"},"encoding":{"x":{"datum":41,"type":"quantitative"},"y":{"datum":6.0,"type":"quantitative"},"text":{"field":"gene"}}},
   {"data":{"name":"hdr"},"transform":[{"filter":"datum.sec=='b'"}],"mark":{"type":"text","style":"hdr","fontStyle":"italic","fontSize":12},"encoding":{"x":{"datum":155.8,"type":"quantitative"},"y":{"datum":6.0,"type":"quantitative"},"text":{"field":"species"}}},
   {"data":{"name":"hdr"},"transform":[{"filter":"datum.sec=='b'"}],"mark":{"type":"text","style":"hdr","fontSize":12},"encoding":{"x":{"datum":433.5,"type":"quantitative"},"y":{"datum":6.0,"type":"quantitative"},"text":{"field":"strain"}}}
  ]},
  {"width":365,"height":81,"layer":[
   {"data":{"name":"num"},"transform":[{"filter":"datum.org=='HC'"}],"mark":{"type":"rule","color":"#231f20","strokeWidth":0.7},"encoding":{"x":{"field":"r","type":"quantitative","scale":{"domain":[9,983.6],"nice":false,"zero":false}},"y":{"datum":2.1,"type":"quantitative","scale":{"domain":[-2.4,8.4],"nice":false,"zero":false}},"y2":{"datum":0}}},
   {"data":{"name":"num"},"transform":[{"filter":"datum.org=='HC'"}],"mark":{"type":"text","style":"num"},"encoding":{"x":{"field":"r","type":"quantitative"},"y":{"datum":2.6,"type":"quantitative"},"text":{"field":"r","type":"quantitative"}}},
   {"data":{"name":"dom"},"transform":[{"filter":"datum.org=='HC'&&datum.s>=36"}],"mark":{"type":"rect","cornerRadius":8,"stroke":"#333333","strokeWidth":0.8},"encoding":{"x":{"field":"s","type":"quantitative"},"x2":{"field":"e"},"y":{"datum":-1,"type":"quantitative"},"y2":{"datum":1},"color":{"field":"n","type":"nominal","scale":{"domain":["SP","","Bacon","CBM32_dist","pf17291","M60 (pfam13402)"],"range":["#4b7bc3","#4b4b4d","#f3c6d2","#f4f3a9","#f1b572","#a8dccf"]},"legend":null}}},
   {"data":{"name":"dom"},"transform":[{"filter":"datum.org=='HC'&&datum.s>=36&&datum.n!=''"},{"calculate":"(datum.s+datum.e)/2","as":"mid"}],"mark":{"type":"text","style":"dname","fontSize":7.5,"color":"#231f20"},"encoding":{"x":{"field":"mid","type":"quantitative"},"y":{"datum":0,"type":"quantitative"},"text":{"field":"n"}}},
   {"data":{"name":"mut"},"transform":[{"filter":"datum.org=='HC'"}],"mark":{"type":"rule","color":"#ff2a2a","strokeWidth":1},"encoding":{"x":{"field":"r","type":"quantitative"},"y":{"datum":-1,"type":"quantitative"},"y2":{"datum":-1.45}}},
   {"data":{"name":"mut"},"transform":[{"filter":"datum.org=='HC'"},{"aggregate":[{"op":"mean","field":"r","as":"r"}],"groupby":["g"]}],"mark":{"type":"text","style":"mutl"},"encoding":{"x":{"field":"r","type":"quantitative"},"y":{"datum":-1.95,"type":"quantitative"},"text":{"field":"g"}}}
  ]}
 ],"spacing":20},
 {"data":{"name":"b1"},"transform":[{"calculate":"80000","as":"M"},{"lookup":"k","from":{"data":{"name":"spk"},"key":"k","fields":["m"]}}],
  "facet":{"field":"p","type":"nominal","header":{"title":null,"labelExpr":"'HEK293-'+substring(datum.value,2)","labelFontSize":13,"labelFont":"Liberation Sans","labelColor":"#1a1a1a","labelPadding":2}},
  "columns":4,"spacing":0,
  "spec":{"width":189,"height":155,"layer":[
   {"transform":[{"filter":"datum.c==10"},{"calculate":"[0.25,0.5,0.75,1]","as":"L"},{"flatten":["L"]},{"calculate":"datum.L*sin(datum.k*PI/6)","as":"x"},{"calculate":"datum.L*cos(datum.k*PI/6)","as":"y"}],"mark":{"type":"line","interpolate":"linear-closed","color":"#d9d9d9","strokeWidth":0.8},"encoding":{"x":{"field":"x","type":"quantitative","scale":{"domain":[-1.549,1.549],"nice":false,"zero":false}},"y":{"field":"y","type":"quantitative","scale":{"domain":[-1.211,1.211],"nice":false,"zero":false}},"detail":{"field":"L","type":"nominal"},"order":{"field":"k","type":"quantitative"}}},
   {"transform":[{"filter":"datum.c==10"},{"calculate":"sin(datum.k*PI/6)","as":"x"},{"calculate":"cos(datum.k*PI/6)","as":"y"}],"mark":{"type":"rule","color":"#d9d9d9","strokeWidth":0.8,"strokeDash":[2,2]},"encoding":{"x":{"field":"x","type":"quantitative"},"y":{"field":"y","type":"quantitative"},"x2":{"datum":0},"y2":{"datum":0}}},
   {"transform":[{"filter":"datum.c==10"},{"calculate":"sin(datum.k*PI/6)*(sin(datum.k*PI/6)<-0.01?1.33:1.15)","as":"x"},{"calculate":"1.1*cos(datum.k*PI/6)","as":"y"}],"mark":{"type":"text","font":"Liberation Sans","fontSize":8.5,"color":"#595959","lineBreak":" ","lineHeight":8},"encoding":{"x":{"field":"x","type":"quantitative"},"y":{"field":"y","type":"quantitative"},"text":{"field":"m"}}},
   {"transform":[{"filter":"datum.c==10&&datum.k==0"},{"calculate":"[0,0.25,0.5,0.75,1]","as":"T"},{"flatten":["T"]},{"calculate":"format(datum.T*datum.M,'d')","as":"lbl"},{"calculate":"0","as":"x0"}],"mark":{"type":"text","align":"right","dx":-4,"font":"Liberation Sans","fontSize":9,"color":"#595959"},"encoding":{"x":{"field":"x0","type":"quantitative"},"y":{"field":"T","type":"quantitative"},"text":{"field":"lbl"}}},
   {"transform":[{"filter":"substring(datum.p,0,1)=='L'"},{"calculate":"datum.v/datum.M*sin(datum.k*PI/6)","as":"x"},{"calculate":"datum.v/datum.M*cos(datum.k*PI/6)","as":"y"}],"mark":{"type":"line","interpolate":"linear-closed","strokeWidth":2},"encoding":{"x":{"field":"x","type":"quantitative"},"y":{"field":"y","type":"quantitative"},"order":{"field":"k","type":"quantitative"},"color":{"field":"c","type":"nominal","sort":"descending","scale":{"range":["#4472c4","#ed7d31","#a5a5a5","#ffc000"]},"legend":{"orient":"none","legendX":165.6,"legendY":112,"title":null,"symbolType":"M-3,0H3","symbolSize":36,"symbolStrokeWidth":2.5,"labelFontSize":7.5,"labelFont":"Liberation Sans","labelColor":"#404040","rowPadding":-5,"labelOffset":9,"labelExpr":"datum.label+' ug/mL'"}}}},
   {"transform":[{"filter":"substring(datum.p,0,1)=='R'"},{"calculate":"datum.c","as":"c2"},{"calculate":"datum.v/datum.M*sin(datum.k*PI/6)","as":"x"},{"calculate":"datum.v/datum.M*cos(datum.k*PI/6)","as":"y"}],"mark":{"type":"line","interpolate":"linear-closed","strokeWidth":2},"encoding":{"x":{"field":"x","type":"quantitative"},"y":{"field":"y","type":"quantitative"},"order":{"field":"k","type":"quantitative"},"stroke":{"field":"c2","type":"nominal","sort":"descending","scale":{"range":["#4472c4","#ed7d31"]},"legend":{"orient":"none","legendX":549.6,"legendY":120,"title":null,"symbolType":"M-3,0H3","symbolSize":36,"symbolStrokeWidth":2.5,"labelFontSize":7.5,"labelFont":"Liberation Sans","labelColor":"#404040","rowPadding":-5,"labelOffset":9,"labelExpr":"datum.label+' ug/mL'"}}}}
  ]}},
 {"hconcat":[
  {"width":365,"height":57,"layer":[
   {"data":{"name":"num"},"transform":[{"filter":"datum.org=='HC'&&datum.r<=365"}],"mark":{"type":"rule","color":"#231f20","strokeWidth":0.7},"encoding":{"x":{"field":"r","type":"quantitative","scale":{"domain":[-4.4,970.2],"nice":false,"zero":false}},"y":{"datum":2.1,"type":"quantitative","scale":{"domain":[-2.93,4.67],"nice":false,"zero":false}},"y2":{"datum":0}}},
   {"data":{"name":"num"},"transform":[{"filter":"datum.org=='HC'&&datum.r<=365"}],"mark":{"type":"text","style":"num"},"encoding":{"x":{"field":"r","type":"quantitative"},"y":{"datum":2.6,"type":"quantitative"},"text":{"field":"r","type":"quantitative"}}},
   {"data":{"name":"dom"},"transform":[{"filter":"datum.org=='HC'&&datum.s>=36&&datum.e<=355"}],"mark":{"type":"rect","cornerRadius":8,"stroke":"#333333","strokeWidth":0.8},"encoding":{"x":{"field":"s","type":"quantitative"},"x2":{"field":"e"},"y":{"datum":-1,"type":"quantitative"},"y2":{"datum":1},"color":{"field":"n","type":"nominal","scale":{"domain":["SP","","Bacon","CBM32_dist","pf17291","M60 (pfam13402)"],"range":["#4b7bc3","#4b4b4d","#f3c6d2","#f4f3a9","#f1b572","#a8dccf"]},"legend":null}}},
   {"data":{"name":"dom"},"transform":[{"filter":"datum.org=='HC'&&datum.s>=36&&datum.e<=355&&datum.n!=''"},{"calculate":"(datum.s+datum.e)/2","as":"mid"}],"mark":{"type":"text","style":"dname","fontSize":7.5,"color":"#231f20"},"encoding":{"x":{"field":"mid","type":"quantitative"},"y":{"datum":0,"type":"quantitative"},"text":{"field":"n"}}}
  ]},
  {"width":365,"height":57,"layer":[
   {"data":{"name":"num"},"transform":[{"filter":"datum.org=='HC'&&datum.r<=365"}],"mark":{"type":"rule","color":"#231f20","strokeWidth":0.7},"encoding":{"x":{"field":"r","type":"quantitative","scale":{"domain":[9,983.6],"nice":false,"zero":false}},"y":{"datum":2.1,"type":"quantitative","scale":{"domain":[-2.93,4.67],"nice":false,"zero":false}},"y2":{"datum":0}}},
   {"data":{"name":"num"},"transform":[{"filter":"datum.org=='HC'&&datum.r<=365"}],"mark":{"type":"text","style":"num"},"encoding":{"x":{"field":"r","type":"quantitative"},"y":{"datum":2.6,"type":"quantitative"},"text":{"field":"r","type":"quantitative"}}},
   {"data":{"name":"dom"},"transform":[{"filter":"datum.org=='HC'&&datum.s>=36&&datum.e<=355"}],"mark":{"type":"rect","cornerRadius":8,"stroke":"#333333","strokeWidth":0.8},"encoding":{"x":{"field":"s","type":"quantitative"},"x2":{"field":"e"},"y":{"datum":-1,"type":"quantitative"},"y2":{"datum":1},"color":{"field":"n","type":"nominal","scale":{"domain":["SP","","Bacon","CBM32_dist","pf17291","M60 (pfam13402)"],"range":["#4b7bc3","#4b4b4d","#f3c6d2","#f4f3a9","#f1b572","#a8dccf"]},"legend":null}}},
   {"data":{"name":"dom"},"transform":[{"filter":"datum.org=='HC'&&datum.s>=36&&datum.e<=355&&datum.n!=''"},{"calculate":"(datum.s+datum.e)/2","as":"mid"}],"mark":{"type":"text","style":"dname","fontSize":7.5,"color":"#231f20"},"encoding":{"x":{"field":"mid","type":"quantitative"},"y":{"datum":0,"type":"quantitative"},"text":{"field":"n"}}},
   {"data":{"name":"mut"},"transform":[{"filter":"datum.g=='W255A/R285A'"}],"mark":{"type":"rule","color":"#ff2a2a","strokeWidth":1},"encoding":{"x":{"field":"r","type":"quantitative"},"y":{"datum":-1,"type":"quantitative"},"y2":{"datum":-1.45}}},
   {"data":{"name":"mut"},"transform":[{"filter":"datum.g=='W255A/R285A'"},{"aggregate":[{"op":"mean","field":"r","as":"r"}],"groupby":["g"]}],"mark":{"type":"text","style":"mutl"},"encoding":{"x":{"field":"r","type":"quantitative"},"y":{"datum":-1.95,"type":"quantitative"},"text":{"field":"g"}}}
  ]}
 ],"spacing":20},
 {"data":{"name":"b2"},"transform":[{"calculate":"12000","as":"M"},{"lookup":"k","from":{"data":{"name":"spk"},"key":"k","fields":["m"]}}],
  "facet":{"field":"p","type":"nominal","header":{"title":null,"labelExpr":"'HEK293-'+substring(datum.value,2)","labelFontSize":13,"labelFont":"Liberation Sans","labelColor":"#1a1a1a","labelPadding":2}},
  "columns":4,"spacing":0,
  "spec":{"width":189,"height":160,"layer":[
   {"transform":[{"filter":"datum.c==10"},{"calculate":"[0.25,0.5,0.75,1]","as":"L"},{"flatten":["L"]},{"calculate":"datum.L*sin(datum.k*PI/6)","as":"x"},{"calculate":"datum.L*cos(datum.k*PI/6)","as":"y"}],"mark":{"type":"line","interpolate":"linear-closed","color":"#d9d9d9","strokeWidth":0.8},"encoding":{"x":{"field":"x","type":"quantitative","scale":{"domain":[-1.549,1.549],"nice":false,"zero":false}},"y":{"field":"y","type":"quantitative","scale":{"domain":[-1.2308,1.2308],"nice":false,"zero":false}},"detail":{"field":"L","type":"nominal"},"order":{"field":"k","type":"quantitative"}}},
   {"transform":[{"filter":"datum.c==10"},{"calculate":"sin(datum.k*PI/6)","as":"x"},{"calculate":"cos(datum.k*PI/6)","as":"y"}],"mark":{"type":"rule","color":"#d9d9d9","strokeWidth":0.8,"strokeDash":[2,2]},"encoding":{"x":{"field":"x","type":"quantitative"},"y":{"field":"y","type":"quantitative"},"x2":{"datum":0},"y2":{"datum":0}}},
   {"transform":[{"filter":"datum.c==10"},{"calculate":"sin(datum.k*PI/6)*(sin(datum.k*PI/6)<-0.01?1.33:1.15)","as":"x"},{"calculate":"1.1*cos(datum.k*PI/6)","as":"y"}],"mark":{"type":"text","font":"Liberation Sans","fontSize":8.5,"color":"#595959","lineBreak":" ","lineHeight":8},"encoding":{"x":{"field":"x","type":"quantitative"},"y":{"field":"y","type":"quantitative"},"text":{"field":"m"}}},
   {"transform":[{"filter":"datum.c==10&&datum.k==0"},{"calculate":"[0,0.25,0.5,0.75,1]","as":"T"},{"flatten":["T"]},{"calculate":"format(datum.T*datum.M,'d')","as":"lbl"},{"calculate":"0","as":"x0"}],"mark":{"type":"text","align":"right","dx":-4,"font":"Liberation Sans","fontSize":9,"color":"#595959"},"encoding":{"x":{"field":"x0","type":"quantitative"},"y":{"field":"T","type":"quantitative"},"text":{"field":"lbl"}}},
   {"transform":[{"filter":"substring(datum.p,0,1)=='L'"},{"calculate":"datum.v/datum.M*sin(datum.k*PI/6)","as":"x"},{"calculate":"datum.v/datum.M*cos(datum.k*PI/6)","as":"y"}],"mark":{"type":"line","interpolate":"linear-closed","strokeWidth":2},"encoding":{"x":{"field":"x","type":"quantitative"},"y":{"field":"y","type":"quantitative"},"order":{"field":"k","type":"quantitative"},"color":{"field":"c","type":"nominal","sort":"descending","scale":{"range":["#4472c4","#ed7d31","#a5a5a5","#ffc000"]},"legend":{"orient":"none","legendX":165.6,"legendY":129,"title":null,"symbolType":"M-3,0H3","symbolSize":36,"symbolStrokeWidth":2.5,"labelFontSize":7.5,"labelFont":"Liberation Sans","labelColor":"#404040","rowPadding":-5,"labelOffset":9,"labelExpr":"datum.label+' ug/mL'"}}}},
   {"transform":[{"filter":"substring(datum.p,0,1)=='R'"},{"calculate":"datum.c","as":"c2"},{"calculate":"datum.v/datum.M*sin(datum.k*PI/6)","as":"x"},{"calculate":"datum.v/datum.M*cos(datum.k*PI/6)","as":"y"}],"mark":{"type":"line","interpolate":"linear-closed","strokeWidth":2},"encoding":{"x":{"field":"x","type":"quantitative"},"y":{"field":"y","type":"quantitative"},"order":{"field":"k","type":"quantitative"},"stroke":{"field":"c2","type":"nominal","sort":"descending","scale":{"range":["#4472c4","#ed7d31"]},"legend":{"orient":"none","legendX":549.6,"legendY":129,"title":null,"symbolType":"M-3,0H3","symbolSize":36,"symbolStrokeWidth":2.5,"labelFontSize":7.5,"labelFont":"Liberation Sans","labelColor":"#404040","rowPadding":-5,"labelOffset":9,"labelExpr":"datum.label+' ug/mL'"}}}}
  ]}}
]
}
